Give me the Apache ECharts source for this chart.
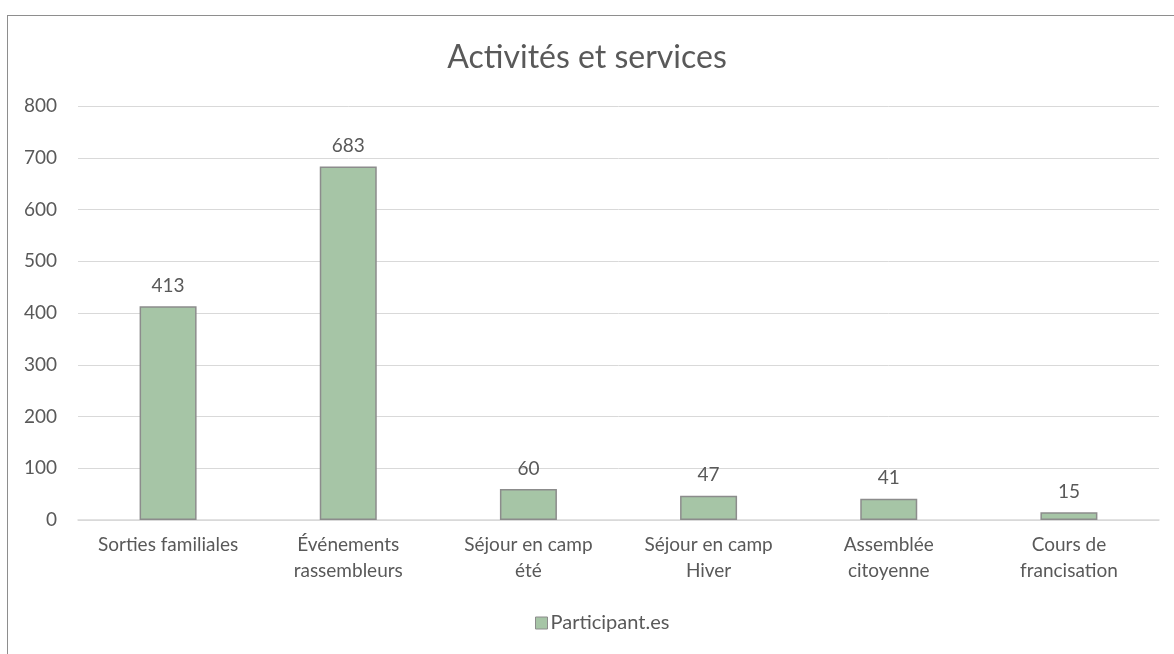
<!DOCTYPE html>
<html>
<head>
<meta charset="utf-8">
<script src="https://cdn.jsdelivr.net/npm/echarts@6/dist/echarts.min.js"></script>
<style>
  html, body { margin: 0; padding: 0; background: #fff; overflow: hidden; }
  #frame { position: absolute; left: 7px; top: 15px; width: 1300px; height: 800px; border: 1.5px solid #8e8e8e; box-sizing: border-box; }
  #chart { position: absolute; left: 0; top: 0; width: 1174px; height: 654px; }
</style>
</head>
<body>
<div id="frame"></div>
<div id="chart"></div>
<script>
// catégories et valeurs
const categories = ['Sorties familiales', 'Événements\nrassembleurs', 'Séjour en camp\nété', 'Séjour en camp\nHiver', 'Assemblée\ncitoyenne', 'Cours de\nfrancisation']
const participants = [413, 683, 60, 47, 41, 15]
const seriesName = 'Participant.es'
const chartTitle = 'Activités et services'

const textColor = '#595959'
const font = 'Lato, "Open Sans", sans-serif'

const myChart = echarts.init(document.getElementById('chart'))
myChart.setOption({
  animation: false,
  title: {
    text: chartTitle,
    left: 'center',
    top: 37,
    textStyle: { color: textColor, fontSize: 32, fontWeight: 'normal', fontFamily: font }
  },
  legend: {
    bottom: 16,
    left: 530,
    icon: 'rect',
    itemWidth: 12,
    itemHeight: 12,
    itemGap: 4,
    itemStyle: { borderColor: '#8c8c8c', borderWidth: 1 },
    textStyle: { color: textColor, fontSize: 20, fontFamily: font, padding: [0, 0, 0, -2] },
    data: [seriesName]
  },
  grid: {
    left: 78,
    right: 15,
    top: 106,
    bottom: 134
  },
  xAxis: {
    type: 'category',
    data: categories,
    axisLine: { lineStyle: { color: '#d9d9d9', width: 1.5 } },
    axisTick: { show: false },
    axisLabel: {
      color: textColor,
      fontSize: 19,
      fontFamily: font,
      interval: 0,
      lineHeight: 26,
      margin: 12
    }
  },
  yAxis: {
    type: 'value',
    min: 0,
    max: 800,
    interval: 100,
    axisLine: { show: false },
    axisTick: { show: false },
    axisLabel: { color: textColor, fontSize: 19, fontFamily: font, margin: 21 },
    splitLine: { lineStyle: { color: '#d9d9d9', width: 1 } }
  },
  series: [
    {
      name: seriesName,
      type: 'bar',
      data: participants,
      barWidth: 57,
      itemStyle: {
        color: '#a6c5a6',
        borderColor: '#8c8c8c',
        borderWidth: 1.5
      },
      label: {
        show: true,
        position: 'top',
        distance: 11,
        color: textColor,
        fontSize: 19,
        fontFamily: font
      }
    }
  ]
})
</script>
</body>
</html>
